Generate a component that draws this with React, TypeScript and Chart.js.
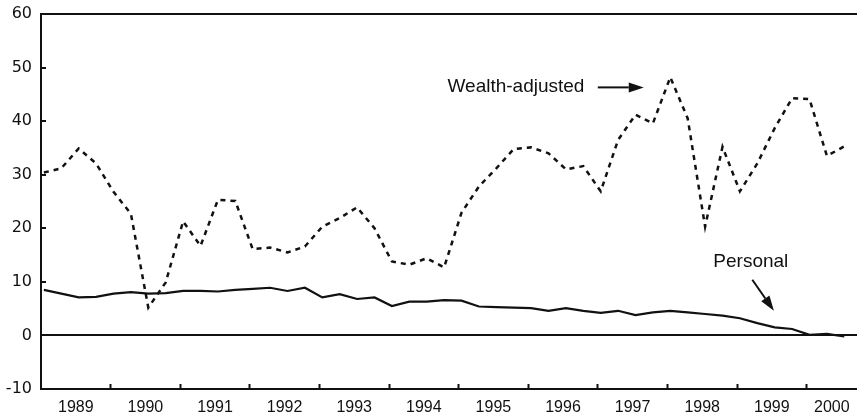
import React, { useEffect, useRef } from "react";
import { Chart, registerables } from "chart.js";

Chart.register(...registerables);

// Quarterly observations, 1989Q1 - 2000Q3
const quarters = [
  "1989Q1", "1989Q2", "1989Q3", "1989Q4",
  "1990Q1", "1990Q2", "1990Q3", "1990Q4",
  "1991Q1", "1991Q2", "1991Q3", "1991Q4",
  "1992Q1", "1992Q2", "1992Q3", "1992Q4",
  "1993Q1", "1993Q2", "1993Q3", "1993Q4",
  "1994Q1", "1994Q2", "1994Q3", "1994Q4",
  "1995Q1", "1995Q2", "1995Q3", "1995Q4",
  "1996Q1", "1996Q2", "1996Q3", "1996Q4",
  "1997Q1", "1997Q2", "1997Q3", "1997Q4",
  "1998Q1", "1998Q2", "1998Q3", "1998Q4",
  "1999Q1", "1999Q2", "1999Q3", "1999Q4",
  "2000Q1", "2000Q2", "2000Q3",
];

const wealthAdjusted = [
  30.4, 31.2, 34.9, 32.1, 26.8, 22.7, 5.2, 9.9,
  21.3, 16.7, 25.3, 25.1, 16.1, 16.4, 15.5, 16.6,
  20.3, 21.9, 23.9, 20.0, 13.8, 13.2, 14.4, 12.7,
  22.9, 27.8, 31.2, 34.8, 35.1, 34.0, 31.0, 31.6,
  26.9, 36.5, 41.2, 39.6, 48.2, 40.5, 20.3, 35.2,
  26.9, 32.1, 38.7, 44.3, 44.1, 33.5, 35.3,
];

const personal = [
  8.5, 7.8, 7.1, 7.2, 7.8, 8.1, 7.8, 7.9,
  8.3, 8.3, 8.2, 8.5, 8.7, 8.9, 8.3, 8.9,
  7.1, 7.7, 6.8, 7.1, 5.5, 6.3, 6.3, 6.6,
  6.5, 5.4, 5.3, 5.2, 5.1, 4.6, 5.1, 4.6,
  4.2, 4.6, 3.8, 4.3, 4.6, 4.3, 4.0, 3.7,
  3.2, 2.3, 1.5, 1.2, 0.1, 0.3, -0.2,
];

const yearLabels = [1989, 1990, 1991, 1992, 1993, 1994, 1995, 1996, 1997, 1998, 1999, 2000];
const yearTickMarks = [1990, 1991, 1992, 1993, 1994, 1995, 1996, 1997, 1998, 1999, 2000];
const yTicks = [-10, 0, 10, 20, 30, 40, 50, 60];

const X_MIN = 1989;
const X_MAX = 2000.724;

// annotation anchors in data units
const wealthText = { text: "Wealth-adjusted", x: 1994.84, y: 45.4 };
const wealthArrow = { from: [1997.0, 46.3], to: [1997.66, 46.3] };
const personalText = { text: "Personal", x: 1998.66, y: 12.85 };
const personalArrow = { from: [1999.22, 10.4], to: [1999.53, 4.6] };

function quarterToTime(q: string): number {
  const year = parseInt(q.slice(0, 4), 10);
  const qn = parseInt(q.slice(5), 10);
  return year + (qn - 1) / 4 + 1 / 24;
}

// label sits in the middle of the visible part of each year
function labelPosition(year: number): number {
  const start = Math.max(year, X_MIN);
  const end = Math.min(year + 1, X_MAX);
  return (start + end) / 2;
}

const FONT_SANS = '"Liberation Sans", Arial, sans-serif';
const FONT_Y = '"DejaVu Sans", sans-serif';
const INK = "#111111";

function drawArrow(ctx: CanvasRenderingContext2D, x1: number, y1: number, x2: number, y2: number) {
  const ang = Math.atan2(y2 - y1, x2 - x1);
  const headLen = 15;
  const headHalf = 5;
  const bx = x2 - headLen * Math.cos(ang);
  const by = y2 - headLen * Math.sin(ang);
  ctx.beginPath();
  ctx.moveTo(x1, y1);
  ctx.lineTo(bx, by);
  ctx.lineWidth = 2;
  ctx.strokeStyle = INK;
  ctx.stroke();
  ctx.beginPath();
  ctx.moveTo(x2, y2);
  ctx.lineTo(bx + headHalf * Math.sin(ang), by - headHalf * Math.cos(ang));
  ctx.lineTo(bx - headHalf * Math.sin(ang), by + headHalf * Math.cos(ang));
  ctx.closePath();
  ctx.fillStyle = INK;
  ctx.fill();
}

const annotationPlugin = {
  id: "annotationsCustom",
  afterDatasetsDraw(chart: any) {
    const { ctx, scales } = chart;
    const x = scales.x;
    const y = scales.y;
    ctx.save();
    ctx.font = `19px ${FONT_SANS}`;
    ctx.fillStyle = INK;
    ctx.textBaseline = "alphabetic";
    ctx.textAlign = "left";
    ctx.fillText(wealthText.text, x.getPixelForValue(wealthText.x), y.getPixelForValue(wealthText.y));
    ctx.fillText(personalText.text, x.getPixelForValue(personalText.x), y.getPixelForValue(personalText.y));
    drawArrow(
      ctx,
      x.getPixelForValue(wealthArrow.from[0]), y.getPixelForValue(wealthArrow.from[1]),
      x.getPixelForValue(wealthArrow.to[0]), y.getPixelForValue(wealthArrow.to[1])
    );
    drawArrow(
      ctx,
      x.getPixelForValue(personalArrow.from[0]), y.getPixelForValue(personalArrow.from[1]),
      x.getPixelForValue(personalArrow.to[0]), y.getPixelForValue(personalArrow.to[1])
    );
    ctx.restore();
  },
};

export default function App() {
  const canvasRef = useRef<HTMLCanvasElement | null>(null);

  useEffect(() => {
    document.body.style.margin = "0";
    const canvas = canvasRef.current;
    if (!canvas) return;
    const times = quarters.map(quarterToTime);

    const xTicks = [
      ...yearTickMarks.map((v) => ({ value: v, mark: true, label: "" })),
      ...yearLabels.map((yr) => ({ value: labelPosition(yr), mark: false, label: String(yr) })),
    ].sort((a, b) => a.value - b.value);

    const chart = new Chart(canvas, {
      type: "line",
      data: {
        datasets: [
          {
            label: "Wealth-adjusted",
            data: times.map((t, i) => ({ x: t, y: wealthAdjusted[i] })),
            borderColor: INK,
            borderWidth: 2.5,
            borderDash: [5, 5],
            pointRadius: 0,
            fill: false,
            tension: 0,
          },
          {
            label: "Personal",
            data: times.map((t, i) => ({ x: t, y: personal[i] })),
            borderColor: INK,
            borderWidth: 2.2,
            pointRadius: 0,
            fill: false,
            tension: 0,
          },
        ],
      },
      options: {
        animation: false,
        responsive: false,
        maintainAspectRatio: false,
        layout: { padding: { top: 14, left: 0, right: 0, bottom: 0 } },
        plugins: {
          legend: { display: false },
          tooltip: { enabled: false },
        },
        scales: {
          x: {
            type: "linear",
            position: "bottom",
            min: X_MIN,
            max: X_MAX,
            afterBuildTicks: (scale: any) => {
              scale.ticks = xTicks.map((t) => ({ value: t.value }));
            },
            afterFit: (scale: any) => {
              scale.height = 25;
              scale.paddingLeft = 0;
              scale.paddingRight = 0;
            },
            ticks: {
              autoSkip: false,
              maxRotation: 0,
              minRotation: 0,
              padding: 14,
              color: INK,
              font: { family: FONT_SANS, size: 16 },
              callback: (_value: any, index: number) => xTicks[index] ? xTicks[index].label : "",
            },
            grid: {
              drawOnChartArea: false,
              drawTicks: true,
              tickLength: -5,
              tickColor: (ctx: any) =>
                xTicks[ctx.index] && xTicks[ctx.index].mark ? INK : "rgba(0,0,0,0)",
              tickWidth: 2,
            },
            border: { display: true, color: INK, width: 2 },
          },
          y: {
            type: "linear",
            position: "left",
            min: -10,
            max: 60,
            afterBuildTicks: (scale: any) => {
              scale.ticks = yTicks.map((v) => ({ value: v }));
            },
            afterFit: (scale: any) => {
              scale.width = 41;
              scale.paddingTop = 0;
              scale.paddingBottom = 0;
            },
            ticks: {
              padding: 14,
              color: INK,
              font: { family: FONT_Y, size: 16 },
              callback: (value: any) => String(value),
            },
            grid: {
              drawOnChartArea: true,
              drawTicks: true,
              tickLength: -5,
              tickColor: INK,
              tickWidth: 2,
              color: (ctx: any) =>
                ctx.tick && (ctx.tick.value === 0 || ctx.tick.value === 60) ? INK : "rgba(0,0,0,0)",
              lineWidth: 2,
            },
            border: { display: true, color: INK, width: 2 },
          },
        },
      },
      plugins: [annotationPlugin],
    } as any);

    return () => {
      chart.destroy();
    };
  }, []);

  return (
    <div style={{ position: "absolute", left: 0, top: 0, width: 857, height: 414, background: "#fff" }}>
      <canvas ref={canvasRef} width={857} height={414} style={{ display: "block" }} />
    </div>
  );
}
